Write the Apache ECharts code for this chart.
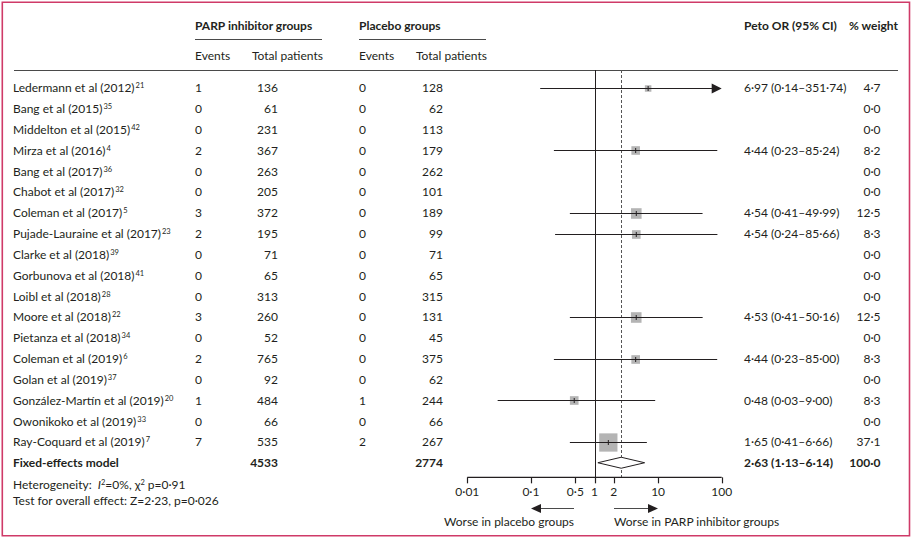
<!DOCTYPE html>
<html><head><meta charset="utf-8">
<script src="https://cdn.jsdelivr.net/npm/echarts@6/dist/echarts.min.js"></script>
<style>html,body{margin:0;padding:0;background:#fff}#c{width:913px;height:539px}</style>
</head><body><div id="c"></div>
<script>
// ---------------- data ----------------
const studies = ['Ledermann et al (2012)','Bang et al (2015)','Middelton et al (2015)','Mirza et al (2016)','Bang et al (2017)','Chabot et al (2017)','Coleman et al (2017)','Pujade-Lauraine et al (2017)','Clarke et al (2018)','Gorbunova et al (2018)','Loibl et al (2018)','Moore et al (2018)','Pietanza et al (2018)','Coleman et al (2019)','Golan et al (2019)','González-Martín et al (2019)','Owonikoko et al (2019)','Ray-Coquard et al (2019)'];
const refNums = ['21','35','42','4','36','32','5','23','39','41','28','22','34','6','37','20','33','7'];
const parpEvents = [1,0,0,2,0,0,3,2,0,0,0,3,0,2,0,1,0,7];
const parpTotal = [136,61,231,367,263,205,372,195,71,65,313,260,52,765,92,484,66,535];
const placEvents = [0,0,0,0,0,0,0,0,0,0,0,0,0,0,0,1,0,2];
const placTotal = [128,62,113,179,262,101,189,99,71,65,315,131,45,375,62,244,66,267];
const orEst = [6.97,null,null,4.44,null,null,4.54,4.54,null,null,null,4.53,null,4.44,null,0.48,null,1.65];
const orLow = [0.14,null,null,0.23,null,null,0.41,0.24,null,null,null,0.41,null,0.23,null,0.03,null,0.41];
const orHigh = [351.74,null,null,85.24,null,null,49.99,85.66,null,null,null,50.16,null,85.00,null,9.00,null,6.66];
const weights = [4.7,0,0,8.2,0,0,12.5,8.3,0,0,0,12.5,0,8.3,0,8.3,0,37.1];
const pooledLabel = 'Fixed-effects model';
const pooledParpTotal = 4533;
const pooledPlacTotal = 2774;
const pooledOR = [2.63, 1.13, 6.14];
const pooledWeight = 100.0;
const tickValues = [0.01, 0.1, 0.5, 1, 2, 10, 100];
const refLineValues = [1, 2.63];

// ---------------- style / layout ----------------
const FONT = 'Lato';
const TXT = '#231f20';
const LINE = '#231f20';
const SQ = '#b4b4b4';
const X_MIN = 0.01, X_MAX = 100;
const Y_MIN = -0.85, Y_MAX = 19.74, AXIS_Y = 18.70;
const COL = {name: 13, pEv: 195, pTot: 278, cEv: 359, cTot: 443, or: 744, wt: 880.5};

const dot = s => s.replace('.', '·');
const f2 = v => dot(v.toFixed(2));
const f1 = v => dot(v.toFixed(1));
const ciText = (o, l, h) => f2(o) + ' (' + f2(l) + '–' + f2(h) + ')';

const forestData = [];
studies.forEach((s, i) => { if (orEst[i] != null) forestData.push([orEst[i], i, orLow[i], orHigh[i], weights[i]]); });
const pooledRow = studies.length;
const tableData = studies.map((s, i) => [1, i]).concat([[1, pooledRow]]);

function txt(x, y, text, opt) {
  return {type: 'text', x: x, y: y, style: Object.assign({text: text, fill: TXT, fontFamily: FONT, fontSize: 12, verticalAlign: 'middle', align: 'left'}, opt || {})};
}

function renderTable(params, api) {
  const row = api.value(1);
  const y = api.coord([1, row])[1];
  const ch = [];
  if (row < studies.length) {
    const i = row;
    ch.push(txt(COL.name, y, '{n|' + studies[i] + '}{s|' + refNums[i] + '}', {
      rich: {n: {fontFamily: FONT, fontSize: 12, fill: TXT}, s: {fontFamily: FONT, fontSize: 7.5, fill: TXT, verticalAlign: 'top', padding: [0,0,0,1]}}
    }));
    ch.push(txt(COL.pEv, y, String(parpEvents[i])));
    ch.push(txt(COL.pTot, y, String(parpTotal[i]), {align: 'right'}));
    ch.push(txt(COL.cEv, y, String(placEvents[i])));
    ch.push(txt(COL.cTot, y, String(placTotal[i]), {align: 'right'}));
    if (orEst[i] != null) ch.push(txt(COL.or, y, ciText(orEst[i], orLow[i], orHigh[i])));
    ch.push(txt(COL.wt, y, f1(weights[i]), {align: 'right'}));
  } else {
    const b = {fontWeight: 'bold'};
    ch.push(txt(COL.name, y, pooledLabel, b));
    ch.push(txt(COL.pTot, y, String(pooledParpTotal), {fontWeight: 'bold', align: 'right'}));
    ch.push(txt(COL.cTot, y, String(pooledPlacTotal), {fontWeight: 'bold', align: 'right'}));
    ch.push(txt(COL.or, y, ciText(pooledOR[0], pooledOR[1], pooledOR[2]), b));
    ch.push(txt(COL.wt, y, f1(pooledWeight), {fontWeight: 'bold', align: 'right'}));
  }
  return {type: 'group', children: ch};
}

function renderForest(params, api) {
  const o = api.value(0), row = api.value(1), lo = api.value(2), hi = api.value(3), w = api.value(4);
  const c = api.coord([o, row]);
  const y = Math.round(c[1]) + 0.5;
  const xl = api.coord([Math.max(lo, X_MIN), row])[0];
  const xh = api.coord([Math.min(hi, X_MAX), row])[0];
  const s = 3 * Math.sqrt(w);
  const ch = [];
  ch.push({type: 'rect', shape: {x: c[0] - s / 2, y: y - s / 2, width: s, height: s}, style: {fill: SQ}});
  const lineEnd = hi > X_MAX ? xh - 9 : xh;
  ch.push({type: 'line', shape: {x1: xl, y1: y, x2: lineEnd, y2: y}, style: {stroke: LINE, lineWidth: 1}});
  ch.push({type: 'line', shape: {x1: c[0], y1: y - 2.5, x2: c[0], y2: y + 2.5}, style: {stroke: LINE, lineWidth: 1}});
  if (hi > X_MAX) {
    ch.push({type: 'polygon', shape: {points: [[xh, y], [xh - 10, y - 5], [xh - 10, y + 5]]}, style: {fill: LINE}});
  }
  return {type: 'group', children: ch};
}

function renderDiamond(params, api) {
  const row = api.value(1);
  const c = api.coord([api.value(0), row]);
  const xl = api.coord([api.value(2), row])[0];
  const xh = api.coord([api.value(3), row])[0];
  const h = 5.5;
  return {type: 'polygon', shape: {points: [[xl, c[1]], [c[0], c[1] - h], [xh, c[1]], [c[0], c[1] + h]]},
    style: {fill: '#fff', stroke: LINE, lineWidth: 1}};
}

function renderRef(params, api) {
  const v = api.value(0);
  const x = Math.round(api.coord([v, 0])[0]) + 0.5;
  const top = api.coord([v, Y_MIN])[1];
  const bot = api.coord([v, AXIS_Y])[1];
  const solid = params.dataIndex === 0;
  return {type: 'line', shape: {x1: x, y1: top, x2: x, y2: bot},
    style: {stroke: solid ? LINE : '#555', lineWidth: 1, lineDash: solid ? null : [3, 2]}};
}

// tick marks, placed through the axis scale
function renderTicks(params, api) {
  const p = api.coord([api.value(0), AXIS_Y]);
  const x = Math.round(p[0]) + 0.5;
  return {type: 'line', shape: {x1: x, y1: p[1], x2: x, y2: p[1] + 6}, style: {stroke: LINE, lineWidth: 1.2}};
}

const chart = echarts.init(document.getElementById('c'), null, {renderer: 'svg'});
const gline = (x1, y1, x2, y2, w) => ({type: 'line', shape: {x1, y1, x2, y2}, style: {stroke: '#4a4a4a', lineWidth: w || 1}, silent: true});
const gtext = (x, y, t, opt) => ({type: 'text', x: x, y: y, style: Object.assign({text: t, fill: TXT, fontFamily: FONT, fontSize: 12, verticalAlign: 'middle', align: 'left'}, opt || {}), silent: true});

chart.setOption({
  animation: false,
  backgroundColor: '#fff',
  grid: {left: 467.3, right: 191.3, top: 70, bottom: 40},
  xAxis: {
    type: 'log', logBase: 10, min: X_MIN, max: X_MAX, position: 'bottom', offset: -21.7,
    axisLine: {show: false, onZero: false},
    axisTick: {show: false},
    axisLabel: {show: true, customValues: tickValues, margin: 8, color: TXT, fontFamily: FONT, fontSize: 12,
      formatter: v => dot(String(Number(Number(v).toPrecision(6))))},
    splitLine: {show: false}, minorTick: {show: false}
  },
  yAxis: {type: 'value', inverse: true, min: Y_MIN, max: Y_MAX, show: false},
  series: [
    {type: 'custom', name: 'ref', renderItem: renderRef, data: refLineValues.map(v => [v, 0]), silent: true, z: 1},
    {type: 'line', name: 'baseline', data: [[X_MIN, AXIS_Y], [X_MAX, AXIS_Y]], symbol: 'none', silent: true, z: 6,
      lineStyle: {color: LINE, width: 1.2}, clip: false},
    {type: 'custom', name: 'ticks', renderItem: renderTicks, data: tickValues.map(v => [v, AXIS_Y]), silent: true, clip: false, z: 6},
    {type: 'custom', name: 'table', renderItem: renderTable, data: tableData, silent: true, clip: false},
    {type: 'custom', name: 'forest', renderItem: renderForest, data: forestData, silent: true, clip: false, z: 3},
    {type: 'custom', name: 'pooled', renderItem: renderDiamond, data: [[pooledOR[0], pooledRow, pooledOR[1], pooledOR[2]]], silent: true, z: 3}
  ],
  graphic: [
    {type: 'rect', shape: {x: 2.3, y: 2.3, width: 907.2, height: 533.4}, style: {fill: 'none', stroke: '#cf3a68', lineWidth: 1.6}, silent: true},
    gtext(195, 25, 'PARP inhibitor groups', {fontWeight: 'bold'}),
    gtext(359, 25, 'Placebo groups', {fontWeight: 'bold'}),
    gtext(744, 25, 'Peto OR (95% CI)', {fontWeight: 'bold'}),
    gtext(898, 25, '% weight', {fontWeight: 'bold', align: 'right'}),
    gline(195, 39.5, 322, 39.5),
    gline(359, 39.5, 486, 39.5),
    gtext(195, 55, 'Events'),
    gtext(252, 55, 'Total patients'),
    gtext(359, 55, 'Events'),
    gtext(416, 55, 'Total patients'),
    gline(14, 70.5, 898, 70.5),
    {type: 'text', x: 13, y: 484, silent: true, style: {text: '{n|Heterogeneity:  }{i|I}{s|2}{n|=0%, χ}{s|2}{n| p=0·91}', verticalAlign: 'middle',
      rich: {n: {fontFamily: FONT, fontSize: 12, fill: TXT}, i: {fontFamily: FONT, fontSize: 12, fontStyle: 'italic', fill: TXT}, s: {fontFamily: FONT, fontSize: 7.5, fill: TXT, verticalAlign: 'top'}}}},
    gtext(13, 500, 'Test for overall effect: Z=2·23, p=0·026'),
    gline(574, 508.5, 540, 508.5),
    {type: 'polygon', shape: {points: [[531, 508.5], [541, 504], [541, 513]]}, style: {fill: LINE}, silent: true},
    gline(614, 508.5, 649, 508.5),
    {type: 'polygon', shape: {points: [[658, 508.5], [648, 504], [648, 513]]}, style: {fill: LINE}, silent: true},
    gtext(574, 521, 'Worse in placebo groups', {align: 'right'}),
    gtext(614, 521, 'Worse in PARP inhibitor groups')
  ]
});
</script>
</body></html>
